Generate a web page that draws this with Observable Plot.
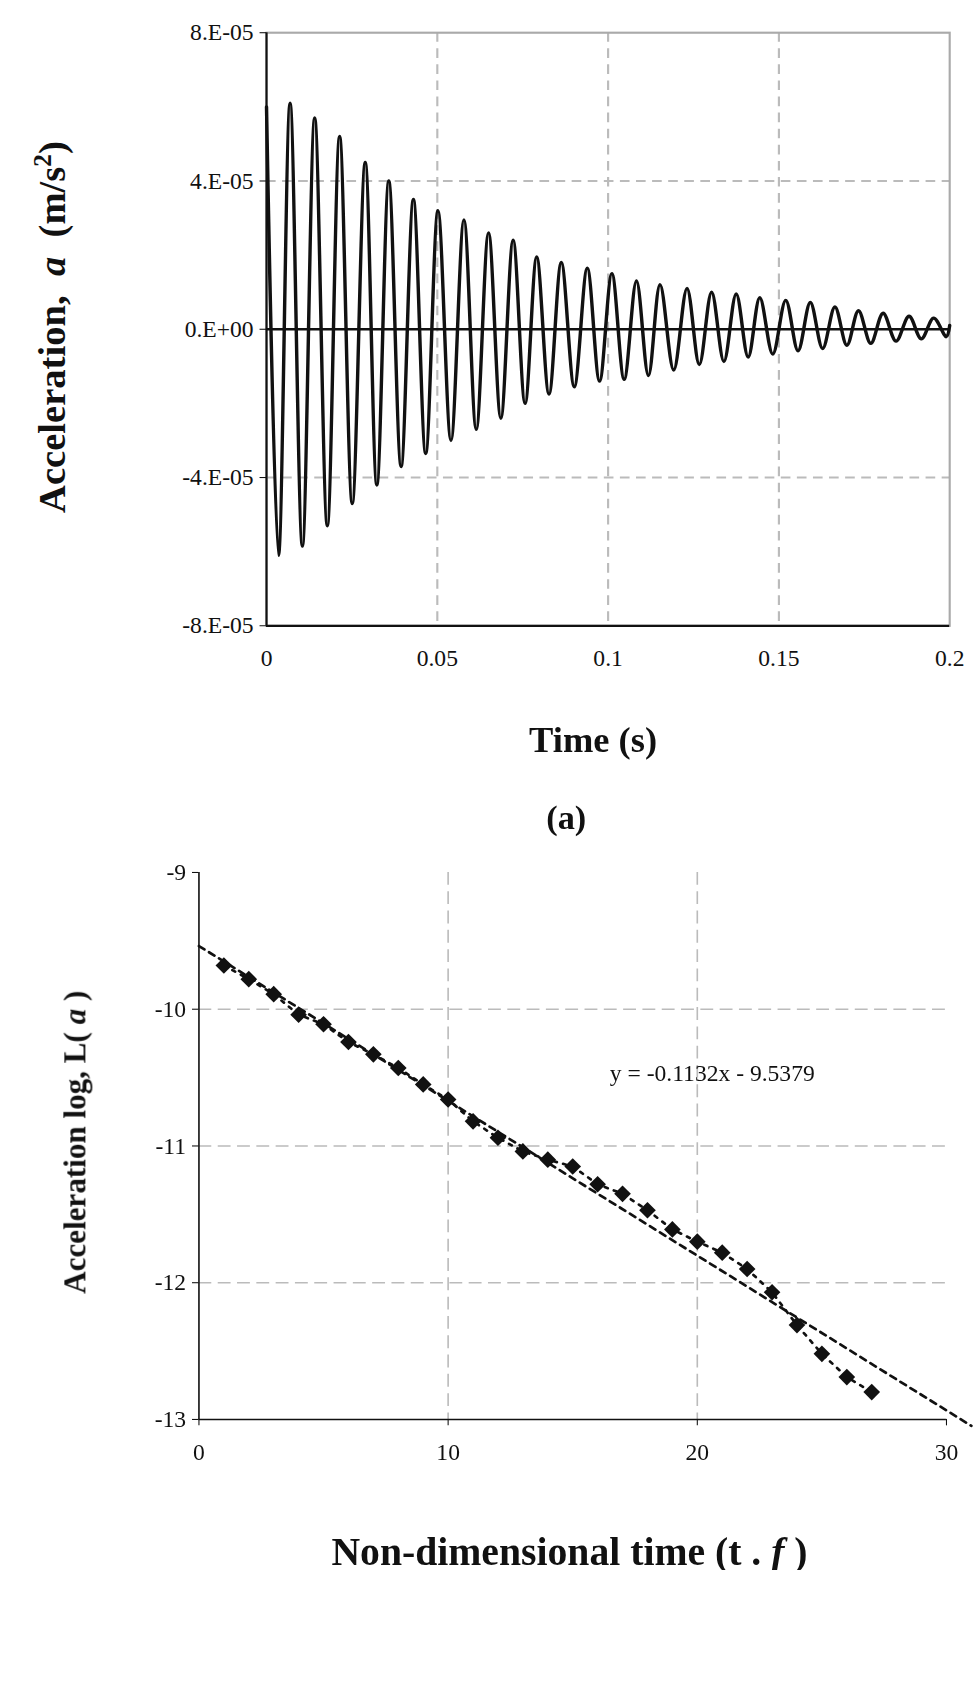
<!DOCTYPE html>
<html><head><meta charset="utf-8">
<script src="https://cdn.jsdelivr.net/npm/d3@7"></script>
<script src="https://cdn.jsdelivr.net/npm/@observablehq/plot@0.6"></script>
<style>
body{margin:0;background:#fff;font-family:"Liberation Serif",serif;overflow:hidden;}
#wrap{position:relative;width:910px;height:1570px;transform:scale(1.0725);transform-origin:0 0;}
.pl{position:absolute;left:0;}
.lab{position:absolute;font-weight:bold;color:#111;white-space:nowrap;}
</style></head><body><div id="wrap"></div>
<script>
// (a) extreme points of the damped signal, alternating max/min (time s, accel m/s^2)
const timeA = [0,0.0035,0.0069,0.0105,0.0141,0.0178,0.0214,0.0251,0.0289,0.0323,0.0358,0.0394,0.0430,0.0466,0.0502,0.0540,0.0578,0.0614,0.0650,0.0686,0.0722,0.0757,0.0791,0.0827,0.0863,0.0901,0.0939,0.0975,0.1011,0.1047,0.1083,0.1118,0.1152,0.1192,0.1231,0.1267,0.1303,0.1339,0.1375,0.1410,0.1444,0.1482,0.1520,0.1556,0.1592,0.1628,0.1664,0.1699,0.1733,0.1769,0.1805,0.1843,0.1881,0.1917,0.1953,0.1990,0.2];
const accelA = [6.0e-5,-6.1e-5,6.1e-5,-5.85e-5,5.7e-5,-5.3e-5,5.2e-5,-4.7e-5,4.5e-5,-4.2e-5,4.0e-5,-3.7e-5,3.5e-5,-3.35e-5,3.2e-5,-3.0e-5,2.95e-5,-2.7e-5,2.6e-5,-2.4e-5,2.4e-5,-2.0e-5,1.95e-5,-1.75e-5,1.8e-5,-1.55e-5,1.65e-5,-1.4e-5,1.5e-5,-1.35e-5,1.3e-5,-1.25e-5,1.2e-5,-1.1e-5,1.1e-5,-0.95e-5,1.0e-5,-0.87e-5,0.95e-5,-0.75e-5,0.85e-5,-0.67e-5,0.78e-5,-0.58e-5,0.72e-5,-0.52e-5,0.6e-5,-0.43e-5,0.5e-5,-0.38e-5,0.43e-5,-0.32e-5,0.35e-5,-0.26e-5,0.3e-5,-0.2e-5,0.1e-5];
const yTicksA = [-8e-5,-4e-5,0,4e-5,8e-5];
const yTickLabelsA = ["-8.E-05","-4.E-05","0.E+00","4.E-05","8.E-05"];
const xTicksA = [0,0.05,0.1,0.15,0.2];
const xTickLabelsA = ["0","0.05","0.1","0.15","0.2"];
// (b) log acceleration vs non-dimensional time
const tB = [1,2,3,4,5,6,7,8,9,10,11,12,13,14,15,16,17,18,19,20,21,22,23,24,25,26,27];
const logB = [-9.68,-9.78,-9.89,-10.04,-10.11,-10.24,-10.33,-10.43,-10.55,-10.66,-10.82,-10.94,-11.04,-11.10,-11.15,-11.28,-11.35,-11.47,-11.61,-11.70,-11.78,-11.90,-12.07,-12.31,-12.52,-12.69,-12.80];
const trendX = [0,31];
const trendY = [-9.5379,-13.0471];
const yTicksB = [-13,-12,-11,-10,-9];
const xTicksB = [0,10,20,30];

const wrap = document.getElementById("wrap");
const dataA = timeA.map((t,i)=>({t, a:accelA[i]}));
const A = Plot.plot({
  width:910,height:640,marginLeft:248,marginRight:25,marginTop:30,marginBottom:57,
  style:{fontFamily:"Liberation Serif",fontSize:"22px",color:"#111",background:"white"},
  x:{domain:[0,0.2]},y:{domain:[-8e-5,8e-5]},
  marks:[
    Plot.gridX([0.05,0.1,0.15],{stroke:"#bbb",strokeOpacity:1,strokeWidth:2,strokeDasharray:"9,6"}),
    Plot.gridY([-4e-5,4e-5],{stroke:"#bbb",strokeOpacity:1,strokeWidth:2,strokeDasharray:"9,6"}),
    Plot.frame({stroke:"#aaa",strokeWidth:2}),
    Plot.ruleY([0],{stroke:"#111",strokeWidth:2.5}),
    Plot.line(dataA,{x:"t",y:"a",stroke:"#111",strokeWidth:3.2,curve:"catmull-rom"}),
    Plot.ruleX([0],{stroke:"#111",strokeWidth:2}),
    Plot.ruleY([-8e-5],{stroke:"#111",strokeWidth:2}),
    Plot.axisY(yTicksA,{tickFormat:(d,i)=>yTickLabelsA[i],tickSize:6,tickPadding:6,label:null,fontSize:22}),
    Plot.axisX(xTicksA,{tickFormat:(d,i)=>xTickLabelsA[i],tickSize:0,tickPadding:22,label:null,fontSize:22})
  ]
});
A.classList.add("pl"); A.style.top="0px"; wrap.appendChild(A);

const dataB = tB.map((t,i)=>({t, v:logB[i]}));
const trend = trendX.map((x,i)=>({x, y:trendY[i]}));
const B = Plot.plot({
  width:910,height:600,marginLeft:185,marginRight:28,marginTop:33,marginBottom:57,
  style:{fontFamily:"Liberation Serif",fontSize:"22px",color:"#111",background:"white",overflow:"visible"},
  x:{domain:[0,30]},y:{domain:[-13,-9]},
  marks:[
    Plot.gridX([10,20],{stroke:"#bbb",strokeOpacity:1,strokeWidth:1.5,strokeDasharray:"12,6"}),
    Plot.gridY([-12,-11,-10],{stroke:"#bbb",strokeOpacity:1,strokeWidth:1.5,strokeDasharray:"12,6"}),
    Plot.ruleX([0],{stroke:"#111",strokeWidth:1.5}),
    Plot.ruleY([-13],{stroke:"#111",strokeWidth:1.5}),
    Plot.line(dataB,{x:"t",y:"v",stroke:"#111",strokeWidth:2.5,strokeDasharray:"3,6"}),
    Plot.line(trend,{x:"x",y:"y",stroke:"#111",strokeWidth:2.5,strokeDasharray:"6,5",clip:false}),
    Plot.dot(dataB,{x:"t",y:"v",symbol:"diamond2",r:7,fill:"#111",stroke:"none"}),
    Plot.text(["y = -0.1132x - 9.5379"],{x:20.6,y:-10.47,fontSize:22,fill:"#111",frameAnchor:"middle"}),
    Plot.axisY(yTicksB,{tickSize:6,tickPadding:6,label:null,fontSize:22,tickFormat:d=>String(d).replace("−","-")}),
    Plot.axisX(xTicksB,{tickSize:6,tickPadding:16,label:null,fontSize:22})
  ]
});
B.classList.add("pl"); B.style.top="780px"; wrap.appendChild(B);

function lab(html,x,y,size,rot){
  const d=document.createElement("div");d.className="lab";d.innerHTML=html;
  d.style.fontSize=size+"px";d.style.left=x+"px";d.style.top=y+"px";
  d.style.transform="translate(-50%,-50%)"+(rot?" rotate(-90deg)":"");
  wrap.appendChild(d);
}
lab('Acceleration, &nbsp;<i>a</i> &nbsp;(m/s<sup style="font-size:0.65em">2</sup>)',48,305,36,true);
lab('Time (s)',553,690,34);
lab('(a)',528,762,32);
lab('Acceleration log, L( <i>a</i> )',70,1065,29,true);
lab('Non-dimensional time (t . <i>f</i> )',531,1447,37);
lab('(b)',528,1540,34);
</script></body></html>
